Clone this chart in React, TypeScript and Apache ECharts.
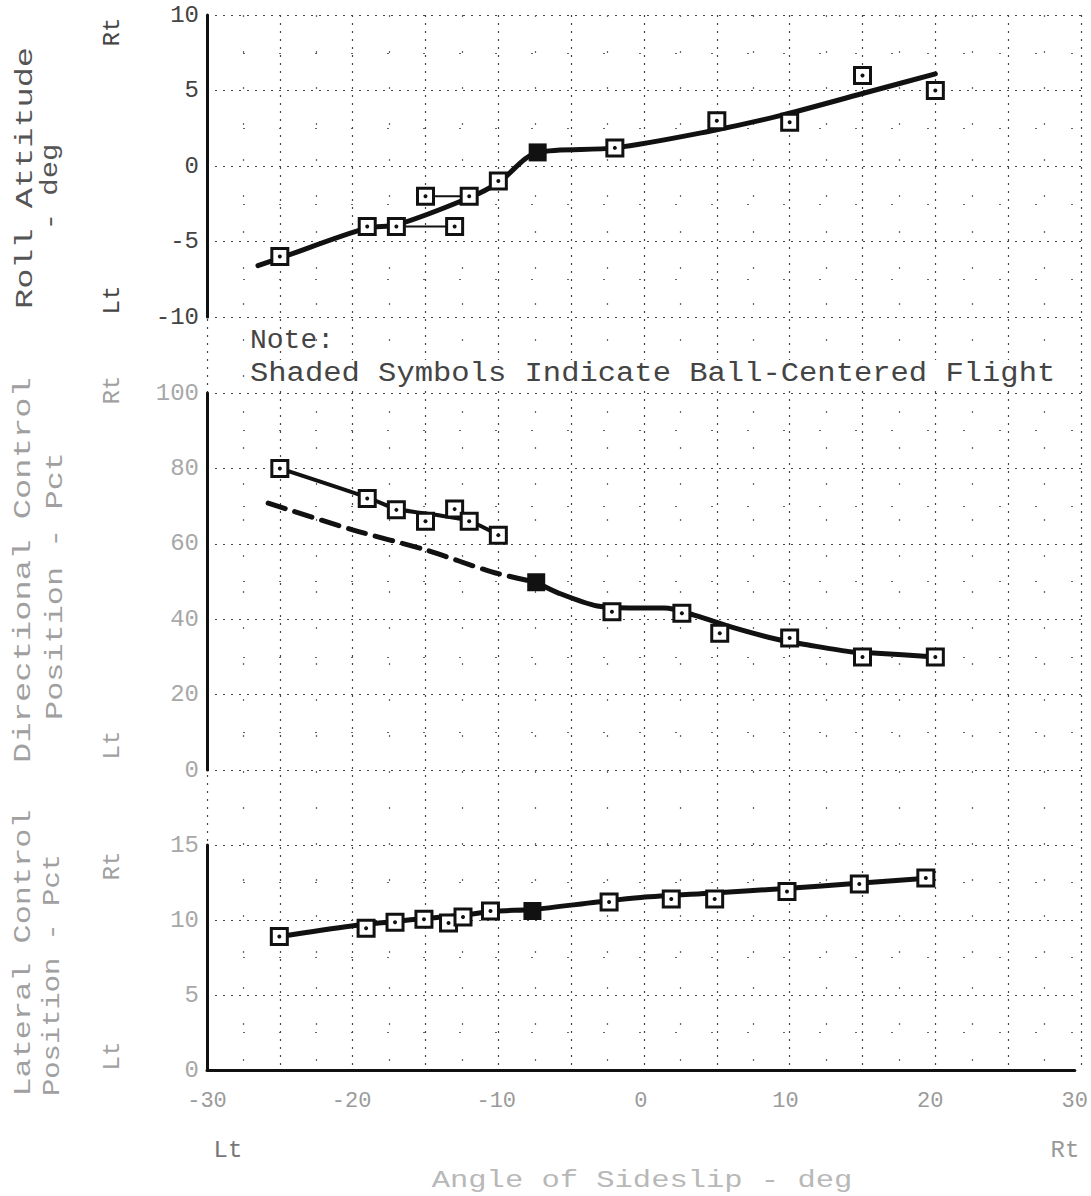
import React, { useEffect, useRef } from "react";
import * as echarts from "echarts";

// ---------- data ----------
const xTicks = [-30, -20, -10, 0, 10, 20, 30];

// Roll attitude (deg)
const rollOpenX = [-25, -19, -17, -15, -13, -12, -10, -2, 5, 10, 15, 20];
const rollOpenY = [-6, -4, -4, -2, -4, -2, -1, 1.2, 3, 2.9, 6, 5];
const rollFilledX = [-7.3];
const rollFilledY = [0.9];
const rollFairX = [-26.5, -25, -19, -17, -12, -10, -7.3, -2, 4.5, 9.2, 15, 20];
const rollFairY = [-6.6, -6.1, -4.1, -3.9, -2.1, -1.1, 0.9, 1.2, 2.3, 3.3, 4.8, 6.1];
const rollThinAX = [-17, -13];
const rollThinAY = [-4, -4];
const rollThinBX = [-15, -12];
const rollThinBY = [-2, -2];

// Directional control position (pct)
const dirOpenX = [-25, -19, -17, -15, -13, -12, -10, -2.2, 2.6, 5.2, 10, 15, 20];
const dirOpenY = [80, 72, 69, 66, 69.2, 66, 62.3, 42, 41.6, 36.3, 35, 30, 30];
const dirFilledX = [-7.4];
const dirFilledY = [49.8];
const dirUpperX = [-25, -19, -17, -14, -12, -10];
const dirUpperY = [80, 72.3, 69.3, 67.5, 66, 62.3];
const dirDashX = [-25.8, -20, -15, -10.4, -7.4];
const dirDashY = [70.8, 63.7, 58.4, 52.5, 49.8];
const dirFairX = [-7.4, -5.9, -3.2, -1, 1.4, 3.5, 6.2, 9.2, 11.2, 14.3, 16, 20];
const dirFairY = [49.8, 47, 43.5, 43, 43, 41, 37.7, 34.6, 33.2, 31.3, 31, 30];

// Lateral control position (pct)
const latOpenX = [-25, -19, -17, -15, -13.3, -12.3, -10.4, -2.2, 2.1, 5.1, 10.1, 15.1, 19.7];
const latOpenY = [8.9, 9.45, 9.85, 10.05, 9.8, 10.2, 10.6, 11.2, 11.4, 11.4, 11.9, 12.4, 12.8];
const latFilledX = [-7.5];
const latFilledY = [10.6];
const latFairX = [-25, -20, -17, -15, -12.5, -10, -7.5, -3, 0, 5, 10, 15, 20];
const latFairY = [8.9, 9.6, 9.9, 10.1, 10.3, 10.6, 10.7, 11.2, 11.5, 11.8, 12.1, 12.45, 12.8];

const zip = (xs: number[], ys: number[]) => xs.map((x, i) => [x, ys[i]]);

const FONT = "Liberation Mono";
const INK = "#111";

export default function App() {
  const ref = useRef<HTMLDivElement>(null);

  useEffect(() => {
    if (!ref.current) return;
    const chart = echarts.init(ref.current, null, { renderer: "svg" });

    const L = 207;
    const W = 874;
    const grids = [
      { left: L, top: 15, width: W, height: 302 },
      { left: L, top: 393, width: W, height: 377 },
      { left: L, top: 845, width: W, height: 225 },
      { left: L, top: 15, width: W, height: 1055 },
    ];

    const majorDots = { color: "#444", width: 1.2, type: [2, 6] as any };
    const minorDots = { color: "#666", width: 1.2, type: [2, 34] as any };

    const hiddenX = (gi: number) => ({
      type: "value",
      gridIndex: gi,
      min: -30,
      max: 30,
      interval: 10,
      axisLine: { show: false },
      axisTick: { show: false },
      axisLabel: { show: false },
      splitLine: { show: false },
    });

    const xAxes: any[] = [
      hiddenX(0),
      hiddenX(1),
      {
        type: "value",
        gridIndex: 2,
        min: -30,
        max: 30,
        interval: 10,
        axisLine: { show: true, onZero: false, lineStyle: { color: INK, width: 3 } },
        axisTick: { show: false },
        axisLabel: {
          show: true,
          fontFamily: FONT,
          fontSize: 22,
          color: "#9a9a9a",
          margin: 20,
          formatter: (v: number) => String(v),
        },
        splitLine: { show: false },
      },
      {
        type: "value",
        gridIndex: 3,
        min: -30,
        max: 30,
        interval: 5,
        axisLine: { show: false },
        axisTick: { show: false },
        axisLabel: { show: false },
        splitLine: { show: true, lineStyle: majorDots },
        minorTick: { show: false, splitNumber: 2 },
        minorSplitLine: { show: true, lineStyle: minorDots },
      },
    ];

    const yAx = (gi: number, min: number, max: number, interval: number, color: string) => ({
      type: "value",
      gridIndex: gi,
      min,
      max,
      interval,
      axisLine: { show: true, onZero: false, lineStyle: { color: INK, width: 3 } },
      axisTick: { show: false },
      axisLabel: { fontFamily: FONT, fontSize: 24, color, margin: 8 },
      splitLine: { show: true, lineStyle: majorDots },
      minorTick: { show: false, splitNumber: 2 },
      minorSplitLine: { show: true, lineStyle: minorDots },
    });

    const yAxes: any[] = [
      yAx(0, -10, 10, 5, "#444"),
      yAx(1, 0, 100, 20, "#a8a8a8"),
      yAx(2, 0, 15, 5, "#a8a8a8"),
      {
        type: "value",
        gridIndex: 3,
        min: 0,
        max: 1,
        show: false,
        splitLine: { show: false },
      },
    ];

    const lineS = (gi: number, data: number[][], width: number, dashed = false, smooth: any = 0.3) => ({
      type: "line",
      xAxisIndex: gi,
      yAxisIndex: gi,
      data,
      smooth,
      symbol: "none",
      lineStyle: { color: INK, width, type: dashed ? ([18, 10] as any) : "solid", cap: "round" },
      z: 3,
      silent: true,
    });

    const openS = (gi: number, data: number[][]) => [
      {
        type: "scatter",
        xAxisIndex: gi,
        yAxisIndex: gi,
        data,
        symbol: "rect",
        symbolSize: 16,
        itemStyle: { color: "#fff", borderColor: INK, borderWidth: 3, opacity: 1 },
        z: 5,
      },
      {
        type: "scatter",
        xAxisIndex: gi,
        yAxisIndex: gi,
        data,
        symbol: "circle",
        symbolSize: 4,
        itemStyle: { color: INK, opacity: 1 },
        z: 6,
      },
    ];

    const filledS = (gi: number, data: number[][]) => ({
      type: "scatter",
      xAxisIndex: gi,
      yAxisIndex: gi,
      data,
      symbol: "rect",
      symbolSize: 18,
      itemStyle: { color: INK, opacity: 1 },
      z: 6,
    });

    const series: any[] = [
      // Roll
      lineS(0, zip(rollFairX, rollFairY), 5),
      lineS(0, zip(rollThinAX, rollThinAY), 2, false, false),
      lineS(0, zip(rollThinBX, rollThinBY), 2, false, false),
      ...openS(0, zip(rollOpenX, rollOpenY)),
      filledS(0, zip(rollFilledX, rollFilledY)),
      // Directional
      lineS(1, zip(dirUpperX, dirUpperY), 4),
      lineS(1, zip(dirDashX, dirDashY), 5, true),
      lineS(1, zip(dirFairX, dirFairY), 5),
      ...openS(1, zip(dirOpenX, dirOpenY)),
      filledS(1, zip(dirFilledX, dirFilledY)),
      // Lateral
      lineS(2, zip(latFairX, latFairY), 5),
      ...openS(2, zip(latOpenX, latOpenY)),
      filledS(2, zip(latFilledX, latFilledY)),
    ];

    const txt = (
      text: string,
      x: number,
      y: number,
      opts: { size?: number; rot?: number; sx?: number; fill?: string } = {}
    ) => ({
      type: "text",
      x,
      y,
      rotation: opts.rot ?? 0,
      scaleX: opts.sx ?? 1,
      silent: true,
      z: 10,
      style: {
        text,
        fontFamily: FONT,
        fontSize: opts.size ?? 24,
        fill: opts.fill ?? "#444",
        align: "center",
        verticalAlign: "middle",
        textAlign: "center",
        textVerticalAlign: "middle",
      },
    });

    const R = Math.PI / 2;
    const faint = "#a0a0a0";
    const graphic: any[] = [
      // top panel titles
      txt("Roll Attitude", 26, 178, { rot: R, sx: 1.4, fill: "#555" }),
      txt("- deg", 51, 187, { rot: R, sx: 1.2, fill: "#555" }),
      txt("Rt", 112, 32, { rot: R, fill: "#444" }),
      txt("Lt", 112, 300, { rot: R, fill: "#444" }),
      // middle panel titles
      txt("Directional Control", 24, 570, { rot: R, sx: 1.41, fill: faint }),
      txt("Position - Pct", 55, 586, { rot: R, sx: 1.33, fill: faint }),
      txt("Rt", 112, 390, { rot: R, fill: faint }),
      txt("Lt", 112, 745, { rot: R, fill: faint }),
      // bottom panel titles
      txt("Lateral Control", 23, 953, { rot: R, sx: 1.33, fill: faint }),
      txt("Position - Pct", 53, 975, { rot: R, sx: 1.2, fill: faint }),
      txt("Rt", 112, 866, { rot: R, fill: faint }),
      txt("Lt", 112, 1056, { rot: R, fill: faint }),
      // x axis
      txt("Lt", 228, 1150, { fill: "#777" }),
      txt("Rt", 1065, 1150, { fill: "#999" }),
      txt("Angle of Sideslip - deg", 642, 1180, { sx: 1.27, fill: "#b8b8b8" }),
      // note
      {
        type: "text",
        x: 250,
        y: 340,
        silent: true,
        z: 10,
        style: {
          text: "Note:",
          fontFamily: FONT,
          fontSize: 28,
          fill: "#444",
          align: "left",
          verticalAlign: "middle",
          textAlign: "left",
          textVerticalAlign: "middle",
        },
      },
      {
        type: "text",
        x: 250,
        y: 374,
        silent: true,
        z: 10,
        scaleX: 1.09,
        style: {
          text: "Shaded Symbols Indicate Ball-Centered Flight",
          fontFamily: FONT,
          fontSize: 28,
          fill: "#444",
          backgroundColor: "#fff",
          align: "left",
          verticalAlign: "middle",
          textAlign: "left",
          textVerticalAlign: "middle",
        },
      },
    ];

    chart.setOption({
      animation: false,
      backgroundColor: "#fff",
      grid: grids,
      xAxis: xAxes,
      yAxis: yAxes,
      series,
      graphic,
    });

    return () => chart.dispose();
  }, []);

  return (
    <div
      ref={ref}
      style={{ position: "absolute", left: 0, top: 0, width: 1091, height: 1196, background: "#fff" }}
    />
  );
}
